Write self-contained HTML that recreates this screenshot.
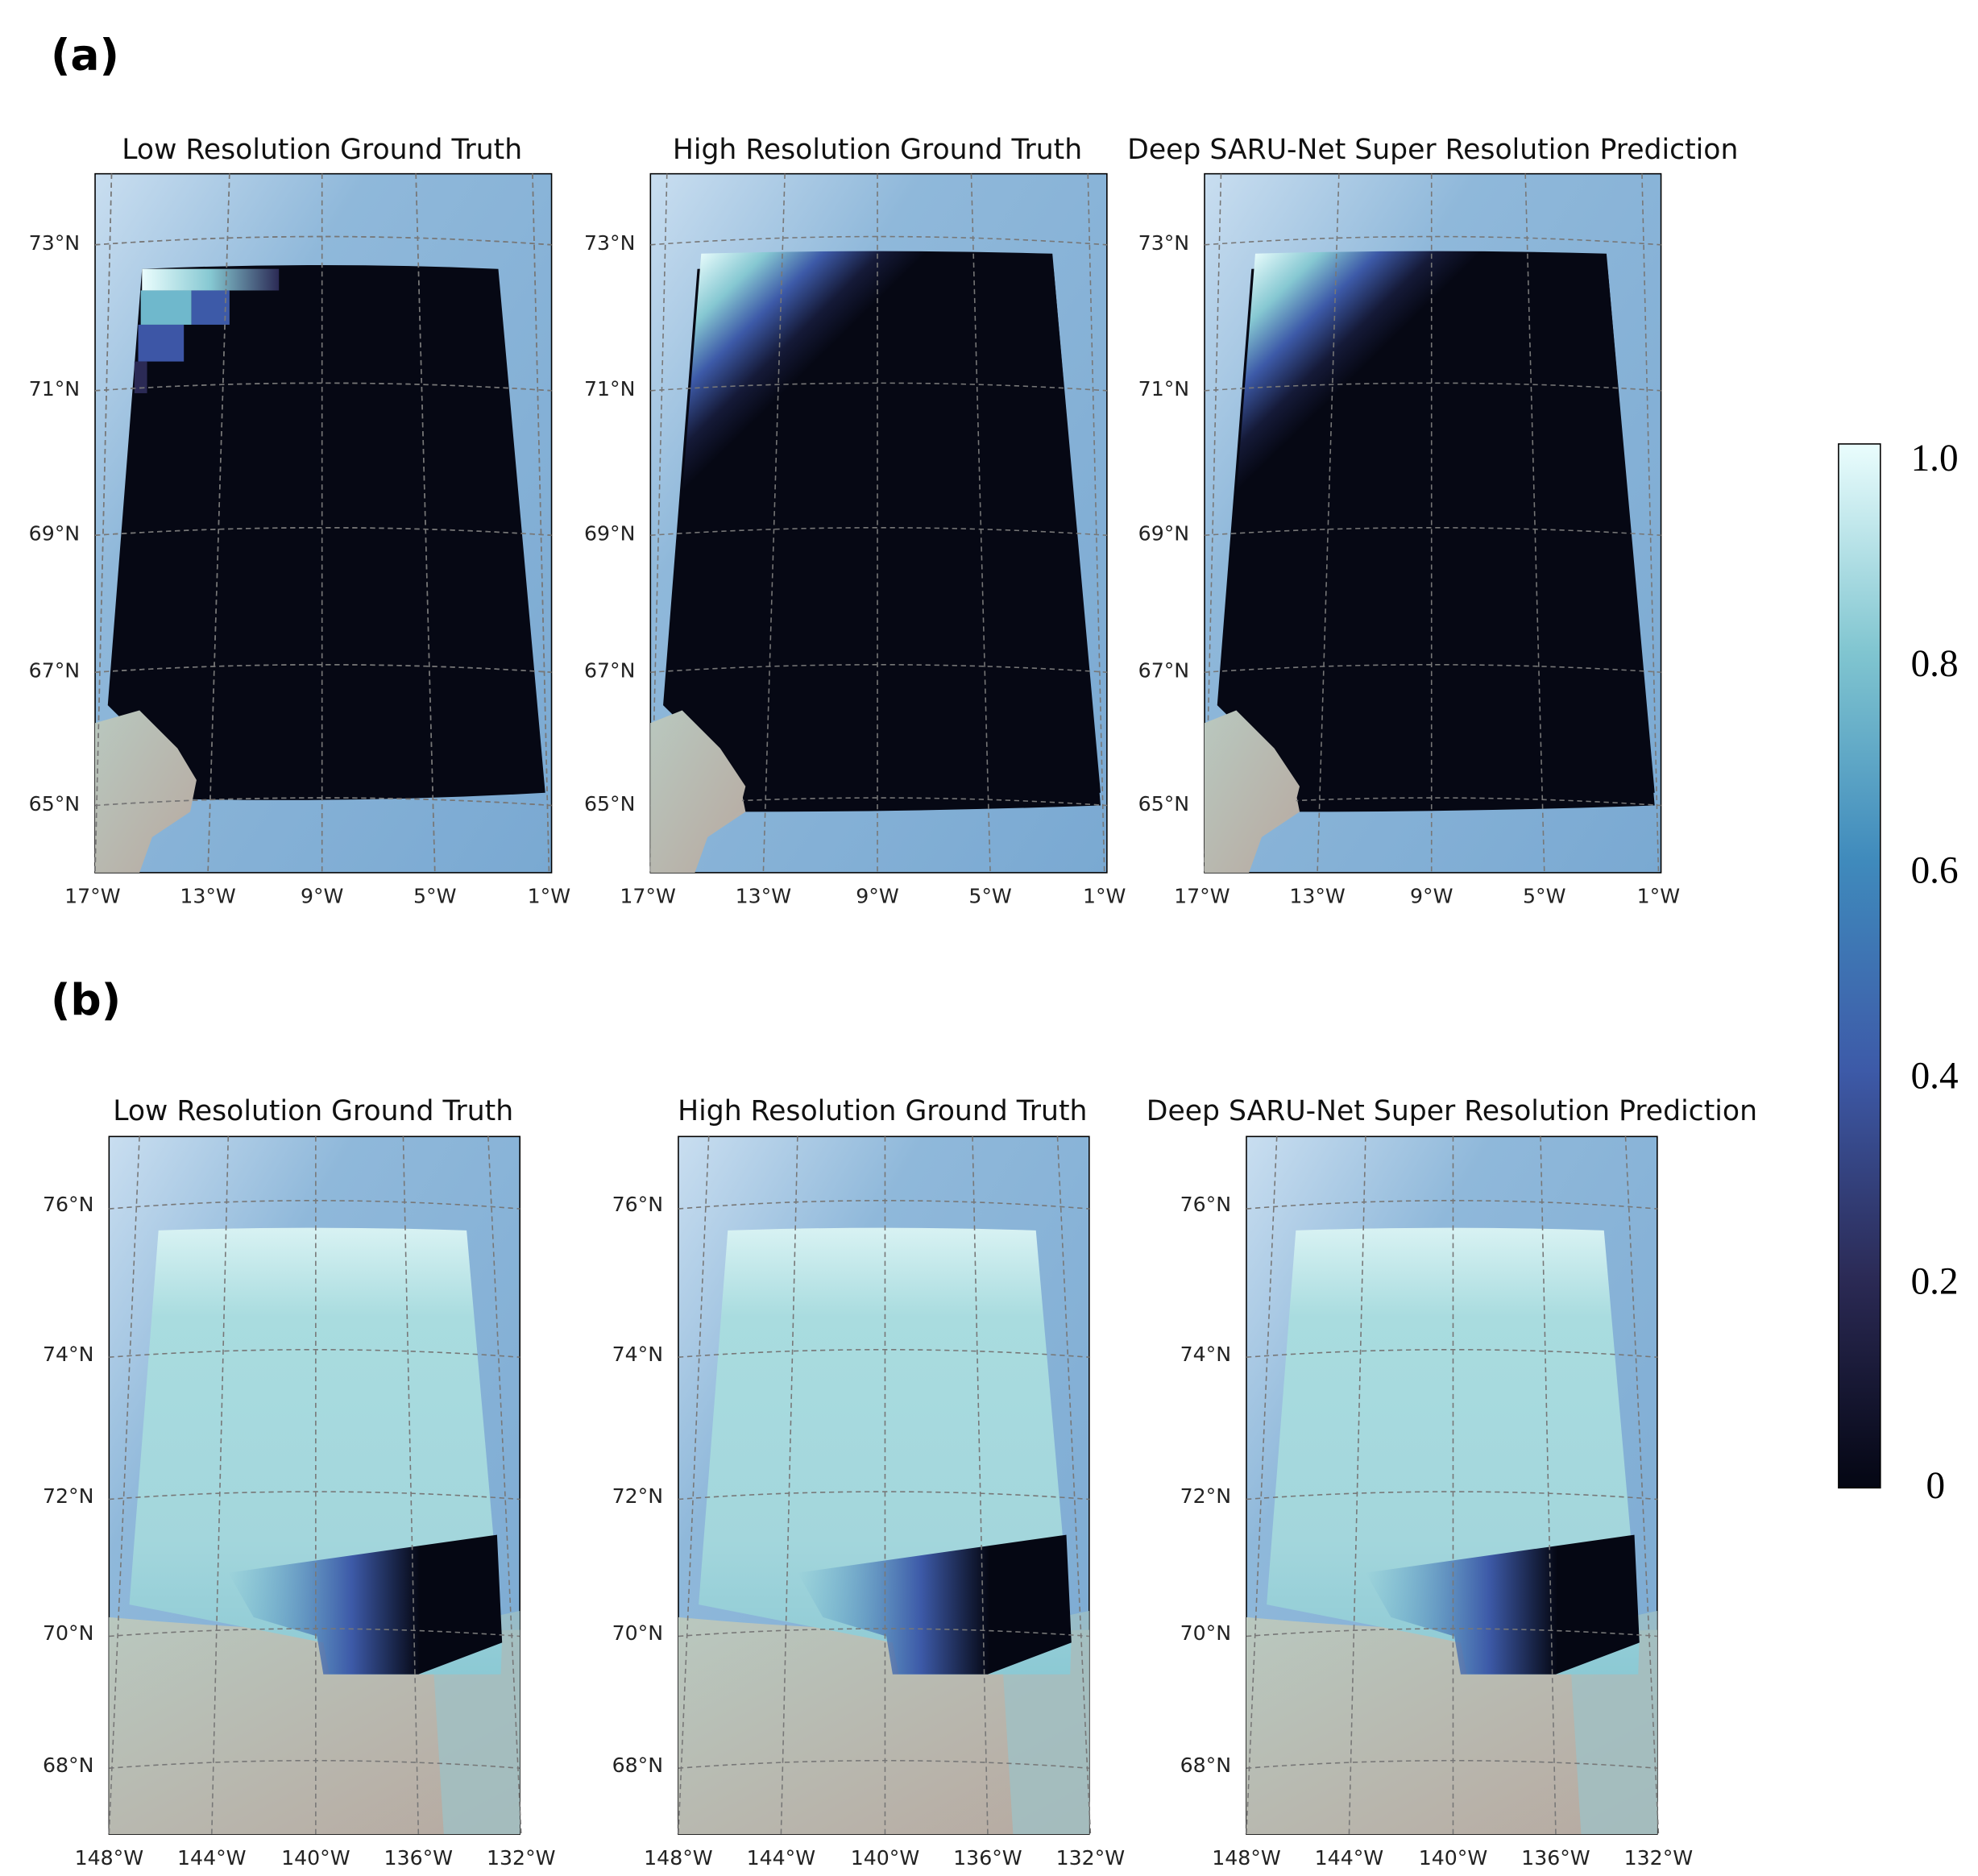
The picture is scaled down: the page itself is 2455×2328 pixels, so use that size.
<!DOCTYPE html>
<html><head><meta charset="utf-8"><style>
html,body{margin:0;padding:0;background:#fff}
svg{display:block}
.s{font-family:"DejaVu Sans","Liberation Sans",sans-serif}
.r{font-family:"Liberation Serif",serif}
</style></head><body>
<svg width="2455" height="2328" viewBox="0 0 1560 1479" preserveAspectRatio="none" xmlns="http://www.w3.org/2000/svg">
<defs>
<linearGradient id="sea" x1="0" y1="0" x2="1" y2="1">
<stop offset="0" stop-color="#c9def0"/><stop offset="0.3" stop-color="#8fb8da"/><stop offset="1" stop-color="#7aa9d2"/></linearGradient>
<linearGradient id="land" x1="0" y1="0" x2="1" y2="1">
<stop offset="0" stop-color="#b9c8bf"/><stop offset="1" stop-color="#b7a9a0"/></linearGradient>
<linearGradient id="cbar" x1="0" y1="1" x2="0" y2="0">
<stop offset="0" stop-color="#040613"/><stop offset="0.2" stop-color="#2b2a55"/><stop offset="0.4" stop-color="#3d5aa8"/><stop offset="0.6" stop-color="#3f8abc"/><stop offset="0.8" stop-color="#80c5d0"/><stop offset="1" stop-color="#eafdfd"/></linearGradient>
<linearGradient id="iceA" gradientUnits="userSpaceOnUse" x1="112" y1="200" x2="200" y2="290">
<stop offset="0" stop-color="#eafdfd"/><stop offset="0.3" stop-color="#86c8d2"/><stop offset="0.55" stop-color="#3d5aa8"/><stop offset="0.8" stop-color="#151a38"/><stop offset="1" stop-color="#060814"/></linearGradient>
<linearGradient id="iceB" x1="0" y1="0" x2="0" y2="1">
<stop offset="0" stop-color="#d8f2f3"/><stop offset="0.2" stop-color="#a9dcdf"/><stop offset="0.7" stop-color="#a3d6dc"/><stop offset="1" stop-color="#8cc9d4"/></linearGradient>
<linearGradient id="darkB" x1="0" y1="0" x2="1" y2="0">
<stop offset="0" stop-color="#4f9cc8" stop-opacity="0"/><stop offset="0.45" stop-color="#3d5aa8"/><stop offset="0.7" stop-color="#050713"/><stop offset="1" stop-color="#050713"/></linearGradient>
<linearGradient id="cellrow" x1="0" y1="0" x2="1" y2="0">
<stop offset="0" stop-color="#eafdfd"/><stop offset="0.5" stop-color="#86c8d2"/><stop offset="1" stop-color="#2b2a55"/></linearGradient>

<g id="grida" stroke="#777" stroke-width="1" stroke-dasharray="4,3" fill="none">
<path d="M75,193 Q255,180 435,193"/><path d="M75,308 Q255,296 435,308"/><path d="M75,422 Q255,410 435,422"/><path d="M75,530 Q255,518 435,530"/><path d="M75,635 Q255,623 435,635"/>
<path d="M88,137 L75,688"/><path d="M181,137 L164,688"/><path d="M254,137 L254,688"/><path d="M328,137 L343,688"/><path d="M420,137 L433,688"/>
</g>

<g id="pa">
<rect x="75" y="137" width="360" height="551" fill="url(#sea)" stroke="#000" stroke-width="1"/>
<path d="M112,212 Q252,206 393,212 L430,625 Q287,633 145,630 L145,615 L85,556 Z" fill="#060814"/>
<path d="M75,570 L110,560 L140,590 L155,615 L150,640 L120,660 L110,688 L75,688 Z" fill="url(#land)"/>
<g class="s" font-size="16" fill="#222" text-anchor="end"><text x="63" y="197">73°N</text><text x="63" y="312">71°N</text><text x="63" y="426">69°N</text><text x="63" y="534">67°N</text><text x="63" y="639">65°N</text></g>
<g class="s" font-size="16" fill="#222" text-anchor="middle"><text x="73" y="712">17°W</text><text x="164" y="712">13°W</text><text x="254" y="712">9°W</text><text x="343" y="712">5°W</text><text x="433" y="712">1°W</text></g>
</g>

<g id="pb">
<rect x="86" y="896" width="324" height="550" fill="url(#sea)" stroke="#000" stroke-width="1"/>
<path d="M86,1275 Q250,1290 410,1285 L410,1446 L86,1446 Z" fill="url(#land)"/>
<path d="M340,1285 L410,1270 L410,1446 L350,1446 Z" fill="#9fc0c4" opacity="0.8"/>
<path d="M125,970 Q246,966 368,970 L396,1290 L395,1320 L260,1320 L255,1295 L102,1265 Z" fill="url(#iceB)"/>
<path d="M180,1240 L392,1210 L396,1295 L330,1320 L255,1320 L250,1290 L200,1275 Z" fill="url(#darkB)"/>
<g stroke="#777" stroke-width="1" stroke-dasharray="4,3" fill="none">
<path d="M86,953 Q248,940 410,953"/><path d="M86,1070 Q248,1058 410,1070"/><path d="M86,1182 Q248,1170 410,1182"/><path d="M86,1290 Q248,1278 410,1290"/><path d="M86,1394 Q248,1382 410,1394"/>
<path d="M110,896 L86,1446"/><path d="M180,896 L167,1446"/><path d="M249,896 L249,1446"/><path d="M318,896 L330,1446"/><path d="M385,896 L411,1446"/>
</g>
<g class="s" font-size="16" fill="#222" text-anchor="end"><text x="74" y="955">76°N</text><text x="74" y="1073">74°N</text><text x="74" y="1185">72°N</text><text x="74" y="1293">70°N</text><text x="74" y="1397">68°N</text></g>
<g class="s" font-size="16" fill="#222" text-anchor="middle"><text x="86" y="1470">148°W</text><text x="167" y="1470">144°W</text><text x="249" y="1470">140°W</text><text x="330" y="1470">136°W</text><text x="411" y="1470">132°W</text></g>
</g>
</defs>

<text class="s" x="40" y="55" font-size="34" fill="#000" font-weight="bold">(a)</text>
<text class="s" x="40" y="800" font-size="34" fill="#000" font-weight="bold">(b)</text>

<use href="#pa"/>
<rect x="112" y="212" width="108" height="17" fill="url(#cellrow)"/>
<rect x="111" y="229" width="40" height="27" fill="#6fb8cc"/>
<rect x="151" y="229" width="30" height="27" fill="#3d5aa8"/>
<rect x="109" y="256" width="36" height="29" fill="#3d56a6"/>
<rect x="106" y="285" width="10" height="25" fill="#2b2a55"/>
<use href="#grida"/>

<g transform="translate(438,0)">
<use href="#pa"/>
<path d="M115,200 Q253,196 392,200 L430,635 Q290,640 150,640 L145,615 L87,556 Z" fill="url(#iceA)"/>
<use href="#grida"/>
<path d="M75,570 L100,560 L130,590 L150,620 L145,640 L120,660 L110,688 L75,688 Z" fill="url(#land)"/>
</g>
<g transform="translate(875,0)">
<use href="#pa"/>
<path d="M115,200 Q253,196 392,200 L430,635 Q290,640 150,640 L145,615 L87,556 Z" fill="url(#iceA)"/>
<use href="#grida"/>
<path d="M75,570 L100,560 L130,590 L150,620 L145,640 L120,660 L110,688 L75,688 Z" fill="url(#land)"/>
</g>
<use href="#grida"/>

<use href="#pb"/>
<use href="#pb" transform="translate(449,0)"/>
<use href="#pb" transform="translate(897,0)"/>

<g class="s" font-size="22" fill="#111" text-anchor="middle">
<text x="254" y="125">Low Resolution Ground Truth</text>
<text x="692" y="125">High Resolution Ground Truth</text>
<text x="1130" y="125">Deep SARU-Net Super Resolution Prediction</text>
<text x="247" y="883">Low Resolution Ground Truth</text>
<text x="696" y="883">High Resolution Ground Truth</text>
<text x="1145" y="883">Deep SARU-Net Super Resolution Prediction</text>
</g>

<rect x="1450" y="350" width="33" height="823" fill="url(#cbar)" stroke="#000" stroke-width="1"/>
<g class="r" font-size="30" fill="#000">
<text x="1507" y="371">1.0</text><text x="1507" y="533">0.8</text><text x="1507" y="696">0.6</text><text x="1507" y="858">0.4</text><text x="1507" y="1020">0.2</text><text x="1519" y="1181">0</text>
</g>
</svg>
</body></html>
